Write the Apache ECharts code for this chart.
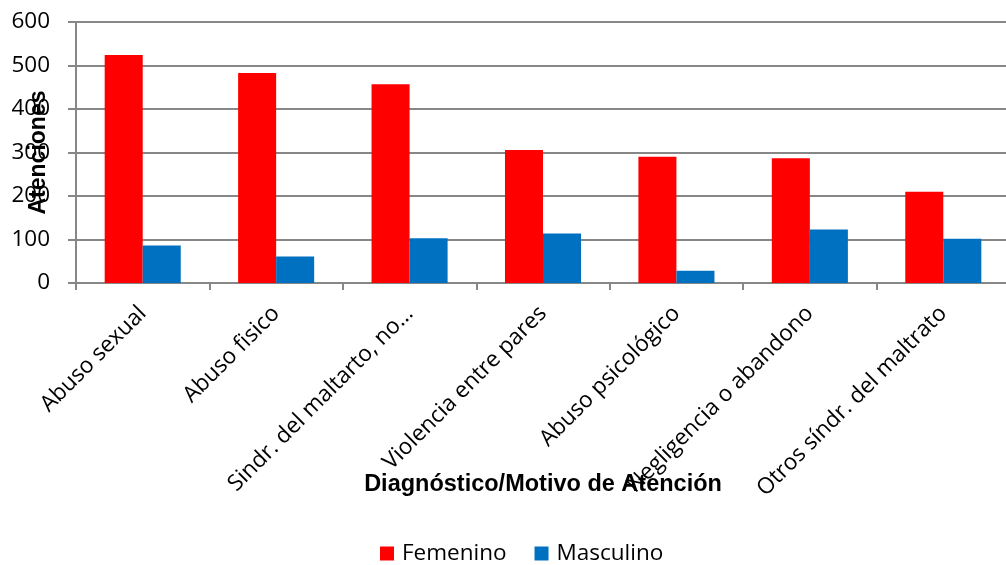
<!DOCTYPE html>
<html><head><meta charset="utf-8">
<script src="https://cdn.jsdelivr.net/npm/echarts@6/dist/echarts.min.js"></script>
<style>html,body{margin:0;padding:0;background:#fff}#c{width:1006px;height:565px}</style>
</head><body><div id="c"></div>
<script>
const categories = ['Abuso sexual','Abuso fisico','Sindr. del maltarto, no…','Violencia entre pares','Abuso psicológico','Negligencia o abandono','Otros síndr. del maltrato'];
const femenino = [524, 483, 457, 306, 290, 287, 210];
const masculino = [86, 61, 103, 114, 28, 123, 102];
const yTicks = [0, 100, 200, 300, 400, 500, 600];

const chart = echarts.init(document.getElementById('c'));
const font = '"Open Sans", "Liberation Sans", sans-serif';
const boldFont = '"Liberation Sans", Arial, sans-serif';
chart.setOption({
  animation: false,
  textStyle: {fontFamily: font},
  grid: {left: 76, right: -4, top: 22, bottom: 282, containLabel: false, outerBoundsMode: 'none'},
  legend: {
    top: 537, left: 375, itemWidth: 14, itemHeight: 14, itemGap: 28,
    icon: 'rect',
    textStyle: {fontSize: 22.5, color: '#000', fontFamily: font, padding: [0, 0, 0, 3]},
    data: ['Femenino', 'Masculino']
  },
  xAxis: {
    type: 'category', data: categories,
    name: 'Diagnóstico/Motivo de Atención', nameLocation: 'middle', nameGap: 190,
    nameMoveOverlap: false,
    nameTextStyle: {fontSize: 23.5, fontWeight: 'bold', color: '#000', fontFamily: boldFont},
    axisLine: {lineStyle: {color: '#878787', width: 2}},
    axisTick: {show: true, length: 7, lineStyle: {color: '#878787', width: 2}},
    axisLabel: {rotate: 45, fontSize: 22.5, color: '#000', margin: 27, interval: 0, hideOverlap: false}
  },
  yAxis: {
    type: 'value', min: 0, max: 600, interval: 100,
    name: 'Atenciones', nameLocation: 'middle', nameGap: 26, nameRotate: 90,
    nameMoveOverlap: false,
    nameTextStyle: {fontSize: 23, fontWeight: 'bold', color: '#000', fontFamily: boldFont},
    axisLine: {show: true, lineStyle: {color: '#878787', width: 2}},
    axisTick: {show: true, length: 8, lineStyle: {color: '#878787', width: 2}},
    axisLabel: {fontSize: 22.5, color: '#000', margin: 26,
      formatter: v => yTicks.includes(v) ? String(v) : ''},
    splitLine: {lineStyle: {color: '#878787', width: 2}}
  },
  series: [
    {name: 'Femenino', type: 'bar', data: femenino, itemStyle: {color: '#FF0000'}, barGap: '0%', barCategoryGap: '43%'},
    {name: 'Masculino', type: 'bar', data: masculino, itemStyle: {color: '#0070C0'}, barGap: '0%', barCategoryGap: '43%'}
  ]
});
</script>
</body></html>
